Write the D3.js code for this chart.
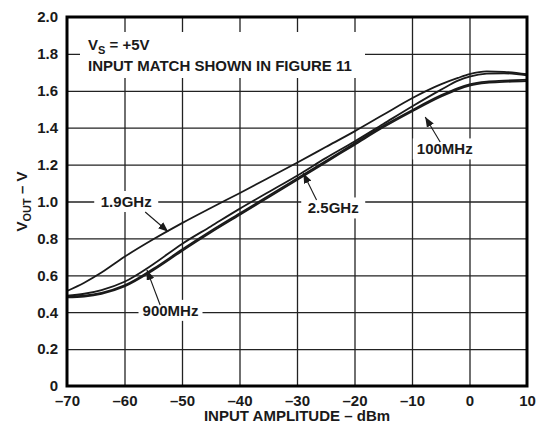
<!DOCTYPE html>
<meta charset="utf-8">
<style>
    body { margin: 0; background: #fff; }
    svg { display: block; }
    text { font-family: "Liberation Sans", Arial, sans-serif; font-weight: bold; font-size: 15px; fill: #1a1a1a; }
</style>
<svg width="542" height="425"></svg>
<script src="https://d3js.org/d3.v7.min.js"></script>
<script>
    // values
    let dbm = [-70, -67, -64, -60, -55, -50, -45, -40, -35, -30, -25, -20, -15, -10, -5, -2, 0, 3, 6, 10];
    let v1900 = [0.515, 0.56, 0.615, 0.70, 0.795, 0.883, 0.965, 1.045, 1.127, 1.21, 1.295, 1.38, 1.47, 1.56, 1.635, 1.67, 1.69, 1.705, 1.703, 1.69];
    let v900 = [0.49, 0.50, 0.52, 0.565, 0.66, 0.77, 0.865, 0.96, 1.05, 1.14, 1.235, 1.325, 1.42, 1.515, 1.605, 1.655, 1.677, 1.693, 1.695, 1.684];
    let v100 = [0.485, 0.49, 0.505, 0.545, 0.635, 0.74, 0.84, 0.935, 1.03, 1.125, 1.22, 1.315, 1.41, 1.495, 1.575, 1.615, 1.635, 1.65, 1.655, 1.66];
    let v2500 = [0.48, 0.485, 0.50, 0.54, 0.628, 0.732, 0.832, 0.927, 1.022, 1.117, 1.212, 1.307, 1.402, 1.488, 1.568, 1.608, 1.628, 1.643, 1.648, 1.652];

    let xTicks = [-70, -60, -50, -40, -30, -20, -10, 0, 10];
    let xTickLabels = ["\u201370", "\u201360", "\u201350", "\u201340", "\u201330", "\u201320", "\u201310", "0", "10"];
    let yTicks = [0, 0.2, 0.4, 0.6, 0.8, 1.0, 1.2, 1.4, 1.6, 1.8, 2.0];
    let yTickLabels = ["0", "0.2", "0.4", "0.6", "0.8", "1.0", "1.2", "1.4", "1.6", "1.8", "2.0"];

    // labels: text, label centre, arrow tail, arrow tip (dBm, V)
    let labels = [
        {text: "1.9GHz", at: [-59.7, 1.0], tail: [-56.4, 0.943], tip: [-52.4, 0.836]},
        {text: "2.5GHz", at: [-23.7, 0.965], tail: [-26.6, 1.008], tip: [-28.9, 1.153]},
        {text: "100MHz", at: [-4.3, 1.285], tail: [-5.1, 1.322], tip: [-7.7, 1.458]},
        {text: "900MHz", at: [-52.0, 0.41], tail: [-53.8, 0.439], tip: [-56.1, 0.629]}
    ];

    var svg = d3.select("svg"),
        margin = {top: 17, right: 15, bottom: 39, left: 67},
        width = svg.attr("width") - margin.left - margin.right,
        height = svg.attr("height") - margin.top - margin.bottom,
        g = svg.append("g").attr("transform", "translate(" + margin.left + "," + margin.top + ")");

    let x = d3.scaleLinear().domain([-70, 10]).range([0, width]);
    let y = d3.scaleLinear().domain([0, 2]).range([height, 0]);

    svg.append("defs").append("marker")
        .attr("id", "head")
        .attr("markerUnits", "userSpaceOnUse")
        .attr("viewBox", "0 0 10 8")
        .attr("refX", 10).attr("refY", 4)
        .attr("markerWidth", 10).attr("markerHeight", 8)
        .attr("orient", "auto")
        .append("path")
        .attr("d", "M0,0L10,4L0,8Z")
        .attr("fill", "#1a1a1a");

    // grid
    g.append("g")
        .attr("transform", `translate(0,${height})`)
        .call(d3.axisBottom(x).tickValues(xTicks.slice(1, -1)).tickSize(-height).tickFormat(""))
        .call(s => s.select(".domain").remove())
        .selectAll("line").attr("stroke", "#222").attr("stroke-width", 1.3);
    g.append("g")
        .call(d3.axisLeft(y).tickValues(yTicks.slice(1, -1)).tickSize(-width).tickFormat(""))
        .call(s => s.select(".domain").remove())
        .selectAll("line").attr("stroke", "#222").attr("stroke-width", 1.3);

    // white boxes behind the texts
    g.append("rect")
        .attr("x", 13).attr("y", 15).attr("width", 285).attr("height", 46)
        .attr("fill", "#fff");

    let lab = g.append("g").selectAll("g").data(labels).enter().append("g");
    lab.append("rect")
        .attr("x", d => x(d.at[0]) - 32)
        .attr("y", d => y(d.at[1]) - 10.5)
        .attr("width", 64).attr("height", 21)
        .attr("fill", "#fff");
    lab.append("text")
        .attr("x", d => x(d.at[0]))
        .attr("y", d => y(d.at[1]))
        .attr("dy", "0.36em")
        .attr("text-anchor", "middle")
        .text(d => d.text);
    lab.append("line")
        .attr("x1", d => x(d.tail[0])).attr("y1", d => y(d.tail[1]))
        .attr("x2", d => x(d.tip[0])).attr("y2", d => y(d.tip[1]))
        .attr("stroke", "#1a1a1a").attr("stroke-width", 1.1)
        .attr("marker-end", "url(#head)");

    // curves
    let line = d3.line().x(d => x(d[0])).y(d => y(d[1])).curve(d3.curveMonotoneX);
    [v1900, v900, v100, v2500].forEach(function (vals) {
        g.append("path")
            .datum(dbm.map((d, i) => [d, vals[i]]))
            .attr("fill", "none")
            .attr("stroke", "#1a1a1a")
            .attr("stroke-width", 1.8)
            .attr("d", line);
    });

    // frame
    g.append("rect")
        .attr("width", width).attr("height", height)
        .attr("fill", "none").attr("stroke", "#000").attr("stroke-width", 3);

    // tick labels
    g.append("g")
        .attr("transform", `translate(0,${height})`)
        .call(d3.axisBottom(x).tickValues(xTicks).tickSize(0).tickPadding(9)
            .tickFormat((d, i) => xTickLabels[i]))
        .call(s => s.select(".domain").remove())
        .selectAll("text").attr("font-size", 15).attr("font-family", null).attr("fill", "#1a1a1a");
    g.append("g")
        .call(d3.axisLeft(y).tickValues(yTicks).tickSize(0).tickPadding(9)
            .tickFormat((d, i) => yTickLabels[i]))
        .call(s => s.select(".domain").remove())
        .selectAll("text").attr("font-size", 15).attr("font-family", null).attr("fill", "#1a1a1a");

    // conditions text
    let note = g.append("text").attr("x", 21).attr("y", 33);
    note.append("tspan").text("V");
    note.append("tspan").attr("dy", 4).attr("font-size", 11).text("S");
    note.append("tspan").attr("dy", -4).text(" = +5V");
    g.append("text").attr("x", 21).attr("y", 54).text("INPUT MATCH SHOWN IN FIGURE 11");

    // axis titles
    svg.append("text")
        .attr("x", margin.left + width / 2)
        .attr("y", 421)
        .attr("text-anchor", "middle")
        .text("INPUT AMPLITUDE \u2013 dBm");

    let yt = svg.append("text")
        .attr("transform", "rotate(-90)")
        .attr("x", -(margin.top + height / 2))
        .attr("y", 27)
        .attr("text-anchor", "middle");
    yt.append("tspan").text("V");
    yt.append("tspan").attr("dy", 4).attr("font-size", 11).text("OUT");
    yt.append("tspan").attr("dy", -4).text(" \u2013 V");
</script>
